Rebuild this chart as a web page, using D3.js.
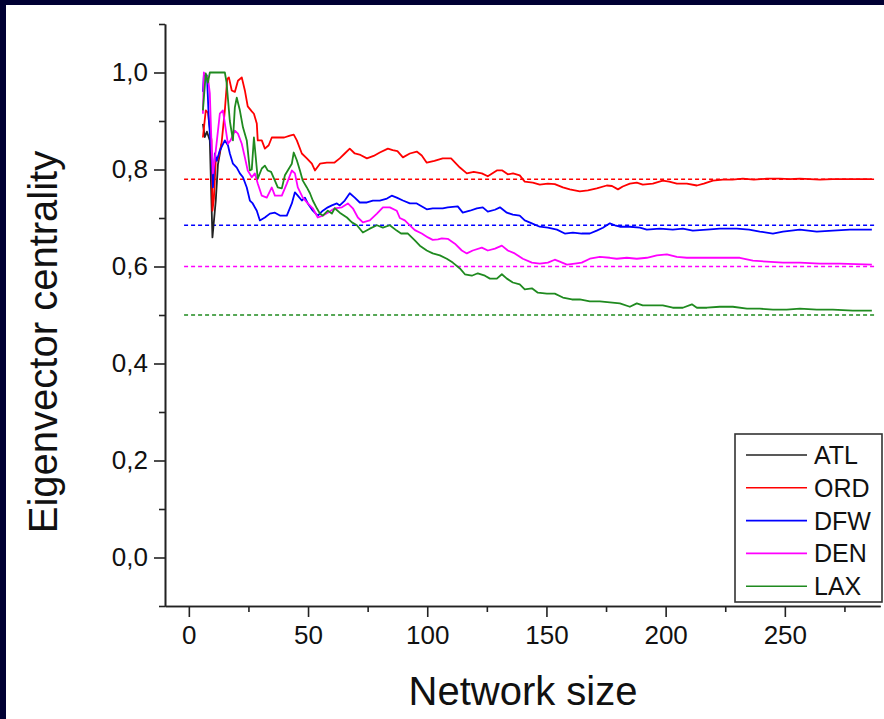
<!DOCTYPE html>
<html>
<head>
<meta charset="utf-8">
<script src="https://cdn.jsdelivr.net/npm/d3@7"></script>
<style>
  body { margin: 0; background: #000033; }
  #canvas { display: block; }
</style>
</head>
<body>
<svg id="canvas"></svg>
<script>
// network size vs eigenvector centrality
const ATL = [[5.9,0.894],[6.7,0.867],[7.6,0.878],[8.8,0.86],[9.9,0.66],[11.3,0.736],[12.2,0.81],[13.7,0.853]];

const ORD = [[5.9,0.866],[7.1,0.922],[8.0,0.917],[9.5,0.86],[9.9,0.715],[10.5,0.74],[11.3,0.819],[12.2,0.82],[13.7,0.853],[15.1,0.922],[16.1,0.987],[16.8,0.99],[18.0,0.963],[19.3,0.96],[20.6,0.983],[22.2,0.99],[23.5,0.963],[24.7,0.93],[26.4,0.92],[27.3,0.915],[28.5,0.895],[28.9,0.86],[30.6,0.86],[31.9,0.843],[33.5,0.85],[34.8,0.866],[37.3,0.866],[40,0.866],[42.4,0.87],[44.0,0.872],[45.3,0.86],[47.4,0.833],[49.5,0.823],[51.6,0.812],[52.9,0.798],[55.0,0.812],[57.9,0.814],[61,0.814],[63.3,0.823],[65.4,0.833],[67.5,0.843],[69.6,0.833],[72,0.83],[74.7,0.823],[77.5,0.828],[80.1,0.835],[83.5,0.843],[85.5,0.84],[87.5,0.838],[89.8,0.825],[92.7,0.833],[95.6,0.837],[97.7,0.829],[99.8,0.814],[103,0.818],[106.5,0.823],[110,0.823],[113.7,0.804],[116.6,0.792],[119.5,0.795],[122.9,0.792],[125.4,0.786],[129.2,0.798],[131.5,0.798],[133.8,0.79],[136,0.792],[138.8,0.788],[140.9,0.775],[144.3,0.773],[147.2,0.769],[150.6,0.771],[153.5,0.77],[156.9,0.763],[159.8,0.759],[164.0,0.755],[167.4,0.757],[171.1,0.761],[175.3,0.767],[177.5,0.766],[180.0,0.759],[182.0,0.765],[185.0,0.771],[187.9,0.773],[190.4,0.769],[194.6,0.771],[198.8,0.777],[201.5,0.775],[204.7,0.771],[208.9,0.771],[213.1,0.767],[216,0.771],[219.8,0.777],[224.0,0.779],[228,0.779],[232.4,0.781],[237,0.779],[242.4,0.781],[247.9,0.781],[252,0.78],[256.3,0.781],[264.7,0.779],[270,0.78],[278.5,0.78],[286.5,0.78]];

const DFW = [[5.9,0.96],[6.3,0.994],[7.6,0.994],[8.4,0.9],[9.5,0.833],[10.1,0.763],[10.9,0.833],[11.7,0.818],[13.0,0.839],[15.1,0.86],[16.4,0.85],[17.2,0.833],[18.5,0.812],[20.1,0.804],[21.4,0.792],[22.7,0.784],[24.3,0.763],[25.6,0.736],[26.8,0.73],[28.5,0.715],[29.8,0.695],[31.9,0.701],[34.0,0.709],[36.1,0.711],[38.2,0.705],[41.1,0.705],[43.2,0.73],[44.5,0.753],[45.7,0.746],[47.4,0.736],[48.7,0.742],[49.9,0.73],[52.0,0.715],[54.1,0.705],[56.2,0.715],[58.3,0.722],[60.0,0.726],[62.1,0.73],[63.3,0.726],[65.4,0.736],[67.5,0.751],[69.6,0.742],[71.7,0.732],[74.7,0.732],[77.2,0.736],[80.1,0.736],[83.1,0.74],[85.1,0.746],[87.2,0.742],[89.8,0.736],[92.7,0.73],[95.6,0.73],[99.8,0.718],[102.3,0.72],[106.5,0.72],[108.6,0.722],[112.8,0.724],[114.9,0.711],[117.9,0.715],[120.8,0.72],[123.3,0.722],[125.4,0.713],[128.4,0.717],[130.5,0.722],[133.4,0.711],[135.9,0.707],[138.8,0.705],[140.9,0.695],[143.9,0.689],[147.2,0.682],[150.6,0.68],[154.4,0.676],[157.7,0.668],[161.1,0.67],[164.8,0.668],[168.2,0.668],[171.1,0.674],[173.7,0.68],[176.6,0.689],[178.7,0.685],[180.8,0.682],[185,0.682],[189.2,0.68],[192.1,0.676],[197.6,0.678],[203,0.676],[207.2,0.678],[211.4,0.674],[217.3,0.676],[222.7,0.678],[229.9,0.678],[235,0.676],[239.5,0.672],[245.0,0.668],[249.2,0.672],[256.3,0.676],[263.4,0.672],[270.1,0.674],[277.3,0.676],[286.5,0.676]];

const DEN = [[5.9,0.915],[6.3,1.0],[8.0,0.99],[8.8,0.957],[9.5,0.853],[10.1,0.792],[11.3,0.839],[13.0,0.915],[14.3,0.922],[15.1,0.895],[16.4,0.853],[17.5,0.86],[19.3,0.88],[20.6,0.874],[22.2,0.853],[23.5,0.825],[24.7,0.798],[26.4,0.784],[27.7,0.792],[28.9,0.771],[30.6,0.746],[32.7,0.742],[34.8,0.763],[36.1,0.746],[39.0,0.746],[41.1,0.771],[43.2,0.798],[44.5,0.792],[45.7,0.763],[47.8,0.742],[49.9,0.73],[52.0,0.72],[54.1,0.701],[56.2,0.705],[58.3,0.711],[61.2,0.72],[64.2,0.722],[66.7,0.73],[68.8,0.72],[70.9,0.701],[73.0,0.691],[75.9,0.695],[78.9,0.709],[81.4,0.722],[84.3,0.722],[87.2,0.715],[88.5,0.70],[90.6,0.695],[92.7,0.685],[94.8,0.675],[97.7,0.668],[100.3,0.66],[102.3,0.655],[104.5,0.656],[106.1,0.658],[108.6,0.657],[111.6,0.647],[114.5,0.633],[116.6,0.627],[119.1,0.633],[122.9,0.639],[125.4,0.633],[128.4,0.637],[131.3,0.643],[133.8,0.633],[136.7,0.627],[140.1,0.616],[143.9,0.608],[147.2,0.606],[150.6,0.608],[153.5,0.614],[155.6,0.61],[158.6,0.604],[161.9,0.606],[164.8,0.608],[168.2,0.616],[172.4,0.62],[176.6,0.618],[179.5,0.616],[183.7,0.618],[187.9,0.616],[192.1,0.618],[196.3,0.623],[200.5,0.625],[204.7,0.62],[208.9,0.618],[214.3,0.618],[219.8,0.618],[225.7,0.618],[231.1,0.618],[236.6,0.612],[242.4,0.61],[249.2,0.608],[256.3,0.608],[264.7,0.606],[273.1,0.606],[286.5,0.604]];

const LAX = [[5.9,0.922],[7.1,0.998],[8.0,0.979],[8.8,1.0],[15.1,1.0],[15.8,0.98],[17.2,0.9],[18.5,0.86],[19.3,0.928],[20.1,0.948],[21.4,0.922],[22.7,0.887],[24.3,0.86],[25.6,0.798],[26.4,0.80],[27.3,0.866],[28.9,0.781],[30.6,0.802],[31.9,0.808],[33.1,0.798],[34.5,0.795],[36.1,0.777],[37.3,0.763],[39.0,0.761],[40.3,0.788],[41.5,0.798],[43.2,0.812],[44.0,0.835],[45.3,0.819],[46.6,0.798],[47.8,0.777],[49.5,0.763],[50.8,0.751],[52.0,0.736],[53.7,0.72],[55.0,0.709],[56.2,0.705],[58.3,0.715],[60.0,0.709],[61.2,0.72],[63.3,0.711],[66.3,0.701],[68.4,0.691],[70.5,0.685],[73.0,0.67],[75.9,0.678],[78.9,0.685],[81.4,0.68],[84.3,0.685],[87.2,0.674],[89.0,0.668],[91.9,0.668],[94.8,0.654],[96.9,0.643],[99.8,0.633],[102.3,0.627],[105.3,0.623],[108.2,0.616],[110.7,0.608],[113.7,0.596],[115.8,0.584],[118.7,0.581],[121.2,0.586],[124.2,0.581],[126.3,0.575],[129.2,0.575],[131.3,0.584],[133.4,0.575],[135.9,0.567],[138.8,0.563],[140.9,0.553],[143.9,0.555],[146.4,0.546],[150.2,0.544],[153.5,0.544],[156.9,0.536],[160.7,0.532],[164.0,0.532],[168.2,0.528],[172.4,0.528],[176.6,0.526],[180.8,0.524],[185.0,0.517],[187.9,0.524],[190.4,0.52],[194.6,0.52],[198.8,0.52],[203.0,0.515],[207.2,0.515],[211.0,0.522],[213.1,0.515],[217.3,0.515],[222.7,0.517],[228.2,0.517],[234.1,0.513],[239.5,0.513],[245.0,0.511],[250.8,0.511],[256.3,0.513],[263.4,0.511],[270.1,0.511],[278.5,0.509],[286.5,0.509]];

const names = ["ATL", "ORD", "DFW", "DEN", "LAX"];
const colors = ["#222222", "#ff0000", "#0000ff", "#ff00ff", "#1f8a1f"];
const series = [ATL, ORD, DFW, DEN, LAX];

// limit levels (dashed), one per airport except ATL
const refNames = ["ORD", "DFW", "DEN", "LAX"];
const refLevels = [0.78, 0.685, 0.6, 0.5];
const refSpan = [-2, 288];

const xTicks = [0, 50, 100, 150, 200, 250];
const xMinor = [25, 75, 125, 175, 225, 275];
const yTicks = [0, 0.2, 0.4, 0.6, 0.8, 1.0];
const yMinor = [-0.1, 0.1, 0.3, 0.5, 0.7, 0.9, 1.1];

const width = 884;
const height = 719;

const canvas = d3.select("#canvas").attr("width", width).attr("height", height);

// dark frame, white page
canvas.append("rect").attr("width", width).attr("height", height).attr("fill", "#000033");
canvas.append("rect").attr("x", 6).attr("y", 5).attr("width", width - 6).attr("height", height - 5).attr("fill", "#ffffff");

const xScale = d3.scaleLinear().domain([-10, 290]).range([165, 880.2]);
const yScale = d3.scaleLinear().domain([-0.1, 1.1]).range([606, 24]);

const commaFmt = (d) => d3.format(".1f")(d).replace(".", ",");

const font = "'Liberation Sans', Arial, sans-serif";

// dashed reference lines
refLevels.forEach((lv, i) => {
  canvas.append("line")
    .attr("x1", xScale(refSpan[0]))
    .attr("x2", xScale(refSpan[1]))
    .attr("y1", yScale(lv))
    .attr("y2", yScale(lv))
    .attr("stroke", colors[names.indexOf(refNames[i])])
    .attr("stroke-width", 1.4)
    .attr("stroke-dasharray", "4,3");
});

const line = d3.line()
  .x((d) => xScale(d[0]))
  .y((d) => yScale(d[1]));

series.forEach((s, i) => {
  canvas.append("path")
    .datum(s)
    .attr("d", line)
    .attr("fill", "none")
    .attr("stroke", colors[i])
    .attr("stroke-width", 1.8)
    .attr("stroke-linejoin", "round");
});

// axes
const xAxis = d3.axisBottom(xScale).tickValues(xTicks).tickFormat(d3.format("d"))
  .tickSize(11).tickSizeOuter(0).tickPadding(9);
const xAxisMinor = d3.axisBottom(xScale).tickValues(xMinor).tickFormat("")
  .tickSize(6).tickSizeOuter(0);
const yAxis = d3.axisLeft(yScale).tickValues(yTicks).tickFormat(commaFmt)
  .tickSize(11).tickSizeOuter(0).tickPadding(6);
const yAxisMinor = d3.axisLeft(yScale).tickValues(yMinor).tickFormat("")
  .tickSize(6).tickSizeOuter(0);

const gx = canvas.append("g").attr("id", "x-axis").attr("transform", `translate(0, ${yScale(-0.1)})`);
gx.call(xAxis);
gx.append("g").call(xAxisMinor);

const gy = canvas.append("g").attr("id", "y-axis").attr("transform", `translate(${xScale(-10)}, 0)`);
gy.call(yAxis);
gy.append("g").call(yAxisMinor);

canvas.selectAll("#x-axis path, #y-axis path, #x-axis line, #y-axis line")
  .attr("stroke", "#222").attr("stroke-width", 1.6);
canvas.selectAll("#x-axis text, #y-axis text")
  .attr("font-family", font).attr("font-size", 26).attr("fill", "#111");

// axis titles
canvas.append("text")
  .attr("x", 523)
  .attr("y", 705)
  .attr("text-anchor", "middle")
  .attr("font-family", font)
  .attr("font-size", 40)
  .attr("fill", "#111")
  .text("Network size");

canvas.append("text")
  .attr("transform", "translate(57, 342) rotate(-90)")
  .attr("text-anchor", "middle")
  .attr("font-family", font)
  .attr("font-size", 40)
  .attr("fill", "#111")
  .text("Eigenvector centrality");

// legend
const legend = canvas.append("g").attr("transform", "translate(735, 434)");
legend.append("rect")
  .attr("width", 147)
  .attr("height", 168)
  .attr("fill", "#fff")
  .attr("stroke", "#333")
  .attr("stroke-width", 1.6);

const rows = legend.selectAll("g.row")
  .data(names)
  .enter()
  .append("g")
  .attr("class", "row")
  .attr("transform", (d, i) => `translate(0, ${21 + i * 32.8})`);

rows.append("line")
  .attr("x1", 11)
  .attr("x2", 72)
  .attr("stroke", (d, i) => colors[i])
  .attr("stroke-width", 1.6);

rows.append("text")
  .attr("x", 79)
  .attr("dy", "0.36em")
  .attr("font-family", font)
  .attr("font-size", 25)
  .attr("fill", "#111")
  .text((d) => d);
</script>
</body>
</html>
